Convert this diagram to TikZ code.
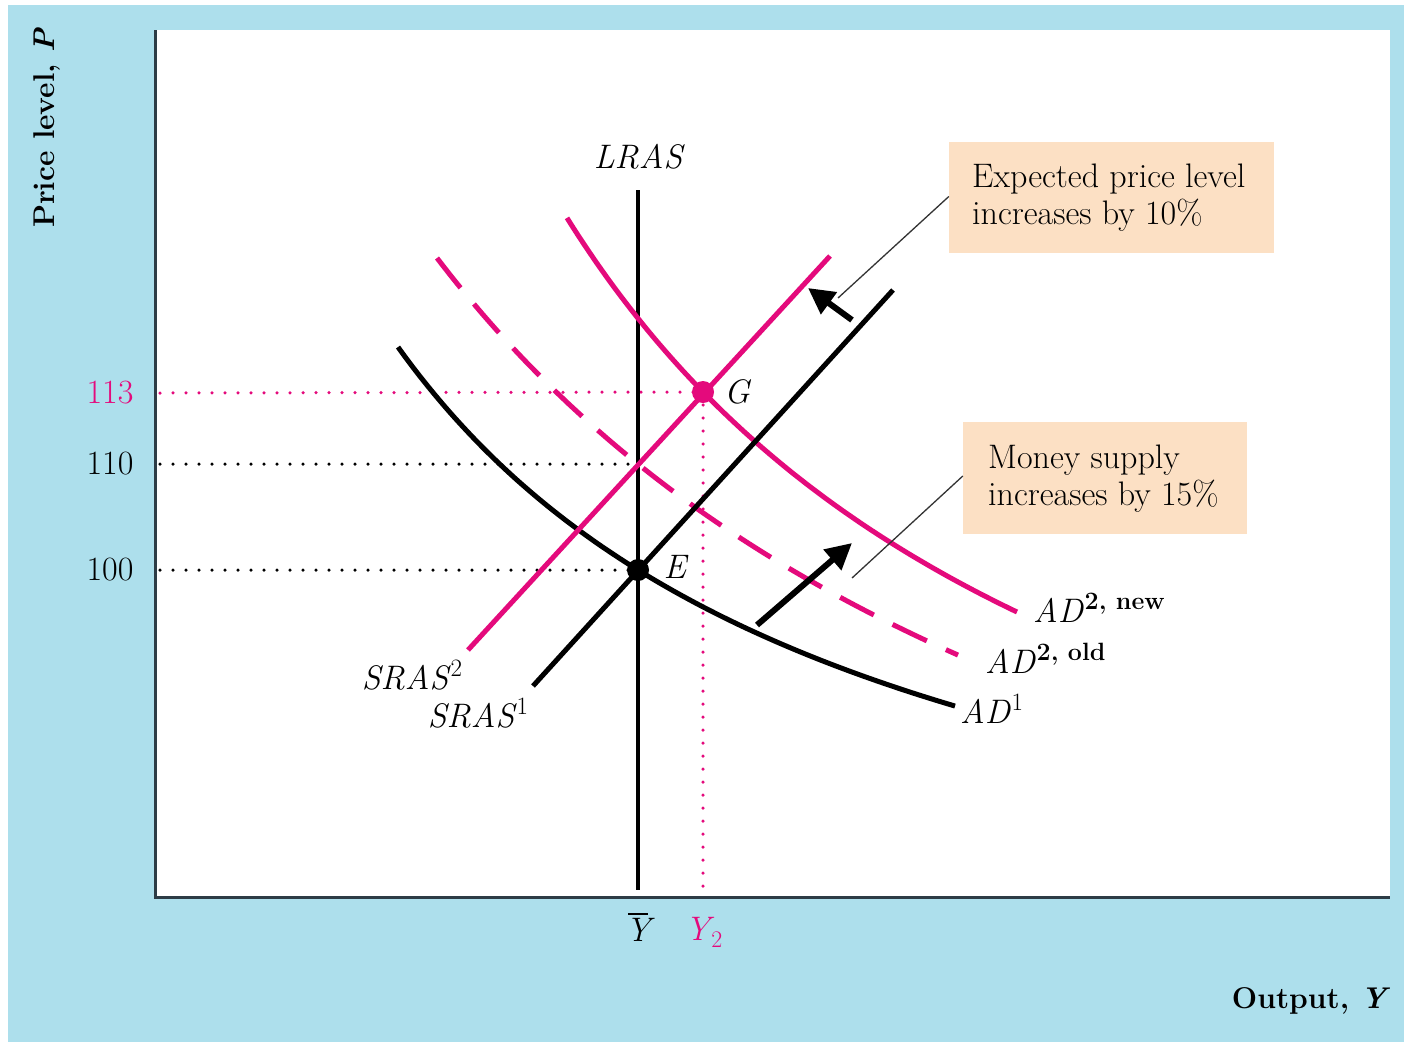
\documentclass[tikz,border=0pt]{standalone}
\usepackage{fontspec}
\usetikzlibrary{arrows.meta}
\definecolor{bgblue}{RGB}{173,223,236}
\definecolor{pinkc}{RGB}{228,10,124}
\definecolor{peach}{RGB}{252,224,196}
\definecolor{axisc}{RGB}{45,60,70}
\newcommand\mysupr[1]{\raisebox{13pt}{\fontsize{25}{25}\selectfont #1}}
\tikzset{
  lbl/.style={font=\fontsize{34}{37}\selectfont, inner sep=0pt},
  ilbl/.style={font=\fontsize{34}{37}\selectfont\itshape, inner sep=0pt},
  curveb/.style={line width=5pt, black},
  curvep/.style={line width=5pt, pinkc},
  dotline/.style={line width=3.5pt, line cap=round, dash pattern=on 0pt off 13pt},
  bigarrow/.style={line width=6pt, -{Triangle[length=26pt,width=26pt]}},
  leader/.style={line width=1.3pt, black!80},
  notebox/.style={fill=peach, minimum width=325pt, minimum height=111pt, inner sep=0pt}
}
\begin{document}
\begin{tikzpicture}[x=1pt,y=-1pt]
\useasboundingbox (0,0) rectangle (1404,1042);
\fill[white] (0,0) rectangle (1404,1042);
\fill[bgblue] (8,5) rectangle (1404,1042);
\fill[white] (155,30) rectangle (1390,897);
% axes
\coordinate (ytop) at (155,30);
\coordinate (orig) at (155,897);
\coordinate (xend) at (1390,897);
\draw[line width=3pt, axisc] (ytop) -- (orig) -- (xend);

% points
\coordinate (E) at (638,570);
\coordinate (G) at (703,392);
\coordinate (c110) at (638,464);
\coordinate (y113) at (160,393);
\coordinate (y110) at (160,464);
\coordinate (y100) at (160,570);
\coordinate (xY2) at (703,890);

% dotted guides
\draw[dotline, pinkc] (y113) -- (G);
\draw[dotline, pinkc] (G) -- (xY2);
\draw[dotline, black] (y110) -- (c110);
\draw[dotline, black] (y100) -- (E);

% LRAS
\coordinate (lrasT) at (638,190);
\coordinate (lrasB) at (638,890);
\draw[line width=4.5pt, black] (lrasT) -- (lrasB);
\node[ilbl] (lraslbl) at (638,157) {LRAS};

% AD2 old (dashed)
\draw[curvep, dash pattern=on 38pt off 21pt] plot[domain=437:958, samples=80, smooth] (\x, {1208.8 - 690.93/((\x+289.7)/1000)});
% AD1
\draw[curveb] plot[domain=398:955, samples=80, smooth] (\x, {1014 - 318.67/((\x+79.8)/1000)});
% AD2 new
\draw[curvep] plot[domain=567:1017, samples=80, smooth] (\x, {1088.9 - 474.42/((\x-22.27)/1000)});

% SRAS lines
\coordinate (s1a) at (533,686);
\coordinate (s1b) at (893,290);
\coordinate (s2a) at (468,650);
\coordinate (s2b) at (830,256);
\draw[curveb] (s1a) -- (s1b);
\draw[curvep] (s2a) -- (s2b);

% equilibrium dots
\fill[black] (E) circle (11);
\fill[pinkc] (G) circle (11);
\node[ilbl] (Elbl) at (675,567) {E};
\node[ilbl] (Glbl) at (737,392) {G};

% axis labels
\node[lbl, pinkc] (l113) at (110,393) {113};
\node[lbl] (l110) at (110,464) {110};
\node[lbl] (l100) at (110,570) {100};
\node[ilbl] (lYbar) at (638,930) {Y};
\draw[line width=2pt] ([xshift=-10pt,yshift=4pt]lYbar.north) -- ([xshift=10pt,yshift=4pt]lYbar.north);
\node[lbl, pinkc] (lY2) at (704,932) {\textit{Y}\kern-3pt\textsubscript{2}};
\node[lbl, font=\fontsize{30}{36}\selectfont\bfseries, rotate=90] (plabel) at (47,128) {Price level, \textit{P}};
\node[lbl, font=\fontsize{30}{36}\selectfont\bfseries] (olabel) at (1311,1001) {Output, \textit{Y}};

% curve labels
\node[lbl] (sras2) at (412,675) {\textit{SRAS}\mysupr{2}};
\node[lbl] (sras1) at (478,713) {\textit{SRAS}\mysupr{1}};
\node[lbl, anchor=west] (ad2n) at (1033,608) {\textit{AD}\kern1pt\mysupr{\bfseries 2, new}};
\node[lbl, anchor=west] (ad2o) at (985,658) {\textit{AD}\kern1pt\mysupr{\bfseries 2, old}};
\node[lbl, anchor=west] (ad1) at (960,709) {\textit{AD}\kern1pt\mysupr{1}};

% boxes
\node[notebox] (box1) at (1111.5,197.5) {};
\node[lbl, anchor=west, align=left] (t1) at (972,198) {Expected price level\\increases by 10\%};
\node[notebox, minimum width=284pt, minimum height=112pt] (box2) at (1105,478) {};
\node[lbl, anchor=west, align=left] (t2) at (988,479) {Money supply\\increases by 15\%};

% arrows
\coordinate (a1s) at (852,320);
\coordinate (a1e) at (808,288);
\draw[bigarrow] (a1s) -- (a1e);
\coordinate (a2s) at (757,625);
\coordinate (a2e) at (852,543);
\draw[bigarrow] (a2s) -- (a2e);

% leaders
\coordinate (ld1) at (838,298);
\coordinate (ld2) at (852,578);
\draw[leader] (box1.west) ++(0,-1) -- (ld1);
\draw[leader] (box2.west) ++(0,-2) -- (ld2);
\end{tikzpicture}
\end{document}
